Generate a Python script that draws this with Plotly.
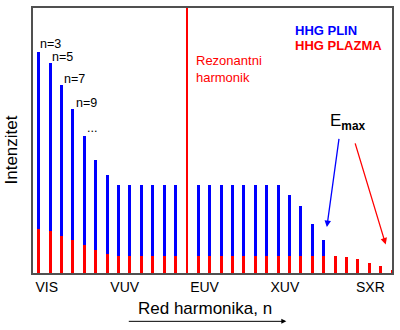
import plotly.graph_objects as go

# harmonic index positions (0..31)
harmonic = list(range(32))
# HHG in gas (blue) intensity, None where absent
hhg_plin = [83.5, 79.4, 71.0, 61.9, 51.8, 42.7, 36.8, 33.3, 33.3, 33.3, 33.3, 33.3, 33.3,
            None,
            33.3, 33.3, 33.3, 33.3, 33.3, 33.3, 33.3, 33.3, 29.5, 25.1, 18.4, 12.6,
            None, None, None, None, None, None]
# HHG in plasma (red) intensity, harmonic 13 is the resonant one
hhg_plazma = [16.7, 15.8, 14.1, 12.4, 10.4, 8.5, 7.2, 6.6, 6.6, 6.6, 6.6, 6.6, 6.6,
              100.0,
              6.6, 6.6, 6.6, 6.6, 6.6, 6.6, 6.6, 6.6, 6.6, 6.6, 6.6, 6.6,
              6.4, 5.9, 5.1, 3.7, 2.6, 1.1]
resonant_index = 13
region_pos = [0.7, 7.55, 14.55, 21.6, 29.1]
region_labels = ["VIS", "VUV", "EUV", "XUV", "SXR"]
order_labels = ["n=3", "n=5", "n=7", "n=9", "..."]

FONT = "Arial, Liberation Sans, sans-serif"
BLUE = "#0000ff"
RED = "#ff0000"

W, H = 400, 330
L, R, T, B = 33, 7, 6, 57
PW, PH = W - L - R, H - T - B

def xp(px):
    return (px - L) / PW

def yp(py):
    return (H - B - py) / PH

def arrow(tip, tail, color, width):
    return dict(text="", x=xp(tip[0]), y=yp(tip[1]), xref="paper", yref="paper",
                ax=tail[0] - tip[0], ay=tail[1] - tip[1], axref="pixel", ayref="pixel",
                showarrow=True, arrowhead=2, arrowsize=1, arrowwidth=width, arrowcolor=color)

red_widths = [0.2 if i == resonant_index else 0.26 for i in harmonic]

fig = go.Figure()
fig.add_trace(go.Bar(x=harmonic, y=hhg_plin, width=0.26, marker=dict(color=BLUE, line_width=0),
                     name="HHG PLIN", showlegend=False))
fig.add_trace(go.Bar(x=harmonic, y=hhg_plazma, width=red_widths, marker=dict(color=RED, line_width=0),
                     name="HHG PLAZMA", showlegend=False))

ann = []
lab_px = [(51, 42), (62.5, 55), (74.2, 77.5), (86.2, 101.7), (91.7, 127)]
for t, (x, y) in zip(order_labels, lab_px):
    ann.append(dict(text=t, x=xp(x), y=yp(y), xref="paper", yref="paper", showarrow=False,
                    font=dict(family=FONT, size=12.5, color="black"), xanchor="center", yanchor="middle"))
ann.append(dict(text="Rezonantni<br>harmonik", x=xp(194), y=yp(67.5), xref="paper", yref="paper",
                showarrow=False, align="left", xanchor="left", yanchor="middle",
                font=dict(family=FONT, size=13, color=RED)))
ann.append(dict(text="<b>HHG PLIN</b>", x=xp(293.5), y=yp(29), xref="paper", yref="paper",
                showarrow=False, xanchor="left", yanchor="middle", font=dict(family=FONT, size=13, color=BLUE)))
ann.append(dict(text="<b>HHG PLAZMA</b>", x=xp(293.5), y=yp(44), xref="paper", yref="paper",
                showarrow=False, xanchor="left", yanchor="middle", font=dict(family=FONT, size=13, color=RED)))
ann.append(dict(text="E<sub><b>max</b></sub>", x=xp(349), y=yp(121), xref="paper", yref="paper",
                showarrow=False, xanchor="center", yanchor="middle", font=dict(family=FONT, size=17, color="black")))
ann.append(arrow((327.7, 226.7), (340, 137), BLUE, 1.3))
ann.append(arrow((386.7, 244.3), (355.7, 141.7), RED, 1.3))
ann.append(dict(text="Red harmonika, n", x=xp(205.5), y=yp(309), xref="paper", yref="paper",
                showarrow=False, xanchor="center", yanchor="middle", font=dict(family=FONT, size=17, color="black")))
ann.append(arrow((287, 321.7), (128, 321.7), "black", 1))
ann.append(dict(text="Intenzitet", x=xp(11.5), y=yp(149), xref="paper", yref="paper", textangle=-90,
                showarrow=False, xanchor="center", yanchor="middle", font=dict(family=FONT, size=17, color="black")))

fig.update_layout(
    width=W, height=H, margin=dict(l=L, r=R, t=T, b=B),
    paper_bgcolor="white", plot_bgcolor="white",
    barmode="overlay", bargap=0,
    annotations=ann,
    xaxis=dict(range=[-0.5, 31], tickvals=region_pos, ticktext=region_labels, ticks="",
               showgrid=False, zeroline=False, showline=True, mirror=True, linecolor="#505050",
               linewidth=2, tickfont=dict(family=FONT, size=14, color="black")),
    yaxis=dict(range=[0, 100], showticklabels=False, ticks="", showgrid=False, zeroline=False,
               showline=True, mirror=True, linecolor="#505050", linewidth=2),
)
fig.write_html("out.html")
